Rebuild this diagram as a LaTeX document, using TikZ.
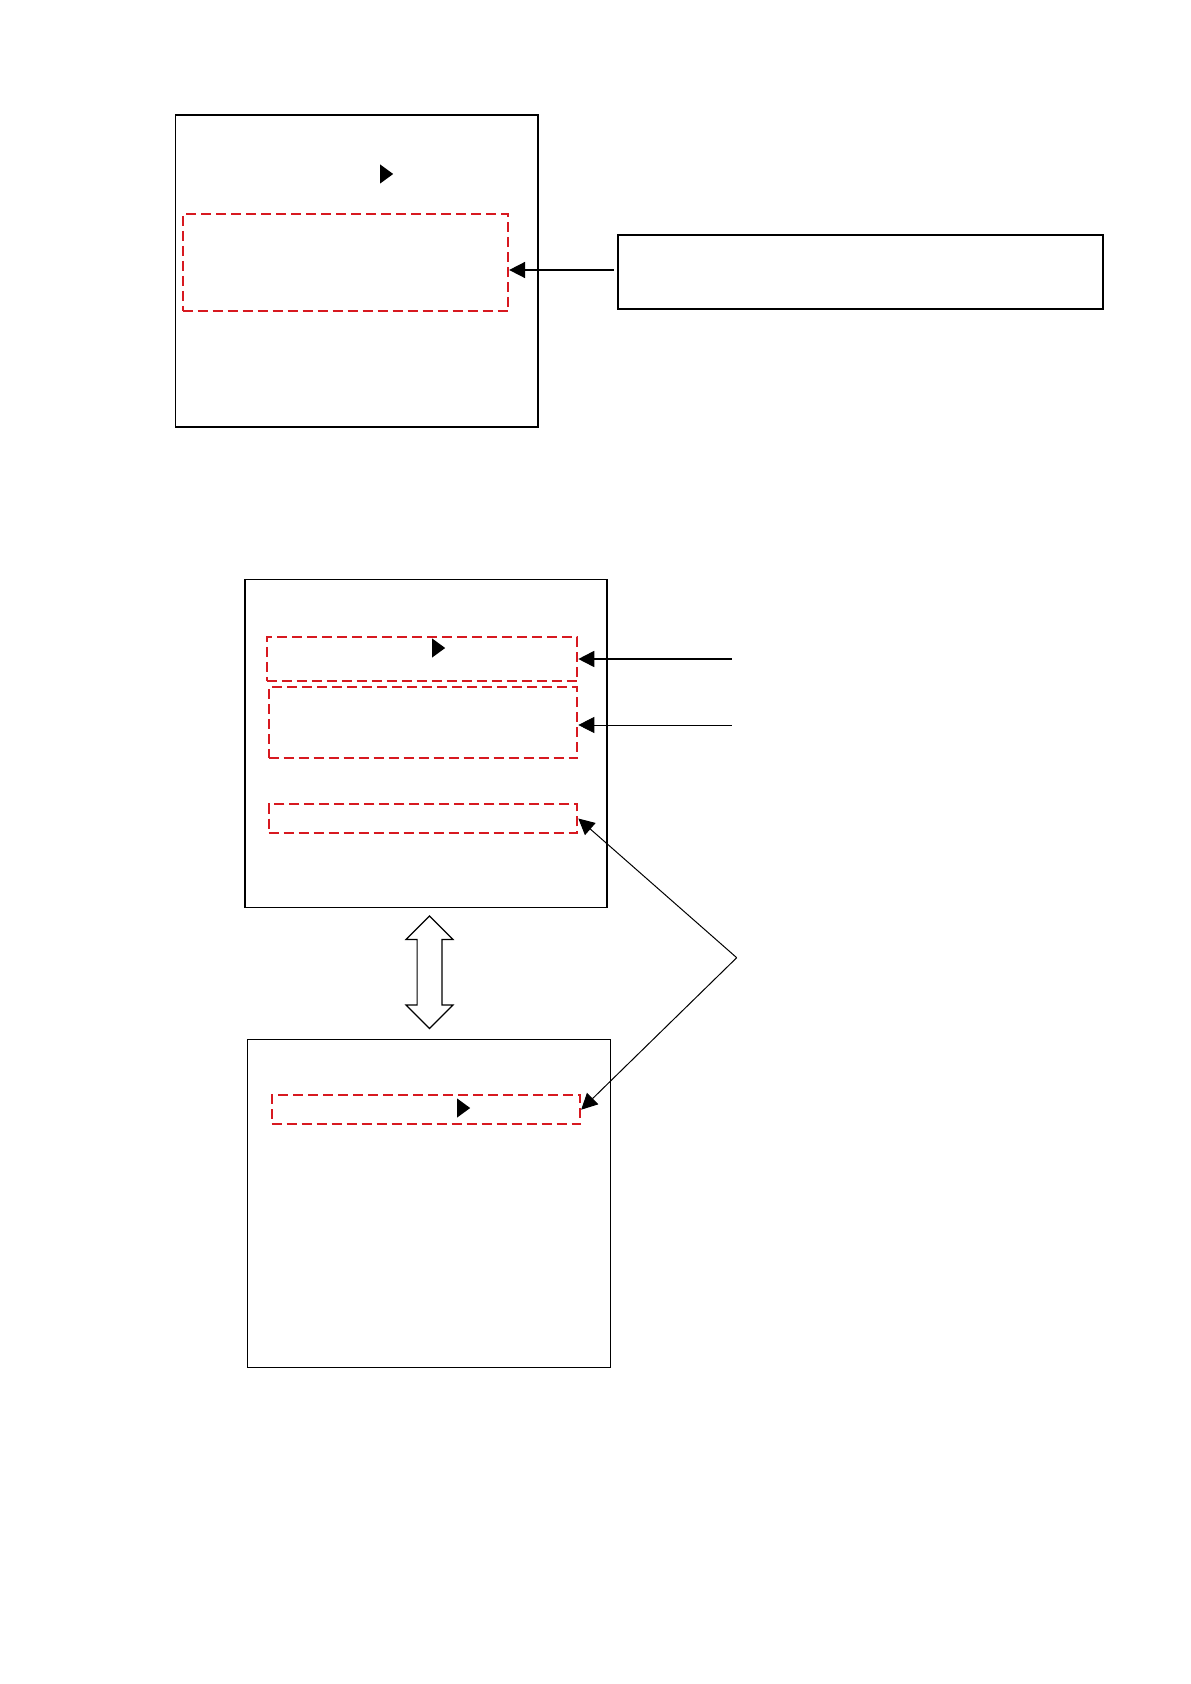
\documentclass[tikz,border=0pt]{standalone}
\usetikzlibrary{arrows.meta, positioning, shapes.geometric, shapes.arrows}
\definecolor{cred}{HTML}{D71920}
\tikzset{
  every picture/.style={line width=0.8pt},
  scrbox/.style={draw=black, inner sep=0pt},
  zone/.style={draw=cred, line width=1pt, dash pattern=on 5pt off 2.5pt, inner sep=0pt},
  arrow/.style={-{Triangle[length=8pt, width=8pt]}, draw=black},
  play/.style={isosceles triangle, isosceles triangle stretches, fill=black, inner sep=0pt, minimum width=9.5pt, minimum height=6.5pt},
  dbl/.style={double arrow, rotate=90, draw=black, fill=white, line width=0.6pt, inner sep=5.9pt, minimum height=56.2pt, double arrow head extend=5.5pt, double arrow tip angle=90},
}
\begin{document}
\begin{tikzpicture}[x=0.5pt, y=-0.5pt,
  scr/.style={scrbox, minimum width=181.2pt, minimum height=164pt},
  zn/.style={zone, minimum width=154.3pt}]
  \useasboundingbox (0,0) rectangle (1190,1684);
  % upper screen and its note
  \node[scr, minimum height=156pt] (s1) at (356.8,271) {};
  \node[zone, minimum width=162.8pt, minimum height=48.5pt] (z1) at (345.3,262.5) {};
  \node[play] (t1) at (385,174) {};
  \node[scrbox, line width=1pt, minimum width=242.7pt, minimum height=36.9pt] (n1) at (860.7,272.2) {};
  \coordinate (c0) at (613.6,270);
  \draw[arrow] (c0) -- (z1.east |- c0);
  % middle screen
  \node[scr] (s2) at (425.9,743.3) {};
  \node[zn, minimum width=155.3pt, minimum height=22pt] (z2) at (422,659) {};
  \node[zn, minimum height=35.4pt] (z3) at (423,722.7) {};
  \node[zn, minimum height=14.2pt] (z4) at (423,818.5) {};
  \node[play] (t2) at (437,648) {};
  \coordinate (c1) at (731.7,659);
  \coordinate (c2) at (731.7,725);
  \coordinate (c3) at (736.7,957.7);
  \draw[arrow, line width=0.9pt] (c1) -- (z2.east);
  \draw[arrow, line width=0.4pt] (c2) -- (z3.east |- c2);
  % lower screen
  \node[scr, line width=0.6pt] (s3) at (429,1203.2) {};
  \node[zn, minimum height=14.4pt] (z5) at (425.9,1109.7) {};
  \node[play] (t3) at (462,1108) {};
  \draw[arrow, line width=0.5pt] (c3) -- (z4.east);
  \draw[arrow, line width=0.5pt] (c3) -- (z5.east);
  \node[dbl] (d1) at (429.5,972.2) {};
\end{tikzpicture}
\end{document}
